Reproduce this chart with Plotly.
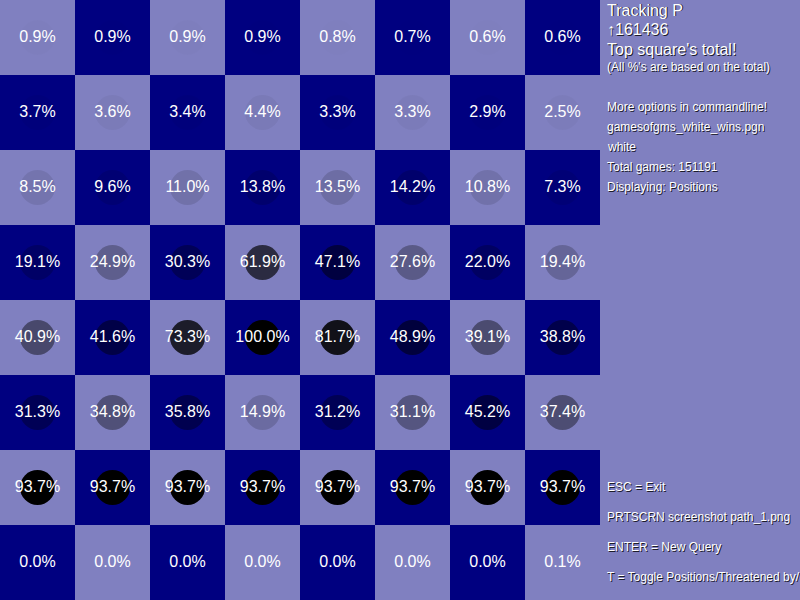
import plotly.graph_objects as go

# percent of games with a pawn on each square, rank 8 (top) to rank 1 (bottom), files a-h
files = ["a", "b", "c", "d", "e", "f", "g", "h"]
ranks = ["8", "7", "6", "5", "4", "3", "2", "1"]
rank8 = [0.9, 0.9, 0.9, 0.9, 0.8, 0.7, 0.6, 0.6]
rank7 = [3.7, 3.6, 3.4, 4.4, 3.3, 3.3, 2.9, 2.5]
rank6 = [8.5, 9.6, 11.0, 13.8, 13.5, 14.2, 10.8, 7.3]
rank5 = [19.1, 24.9, 30.3, 61.9, 47.1, 27.6, 22.0, 19.4]
rank4 = [40.9, 41.6, 73.3, 100.0, 81.7, 48.9, 39.1, 38.8]
rank3 = [31.3, 34.8, 35.8, 14.9, 31.2, 31.1, 45.2, 37.4]
rank2 = [93.7, 93.7, 93.7, 93.7, 93.7, 93.7, 93.7, 93.7]
rank1 = [0.0, 0.0, 0.0, 0.0, 0.0, 0.0, 0.0, 0.1]
board = [rank8, rank7, rank6, rank5, rank4, rank3, rank2, rank1]

info_top = ["Tracking P", "\u2191161436", "Top square's total!"]
info_note = "(All %'s are based on the total)"
info_mid = ["More options in commandline!", "gamesofgms_white_wins.pgn", "white",
            "Total games: 151191", "Displaying: Positions"]
info_keys = ["ESC = Exit", "PRTSCRN screenshot path_1.png", "ENTER = New Query",
             "T = Toggle Positions/Threatened by/"]

LIGHT = "#8080c0"
DARK = "#000080"
FONT = "Liberation Sans, Arial, sans-serif"

parity = [[(r + c) % 2 for c in range(8)] for r in range(8)]

xs, ys, cols, labels = [], [], [], []
for r, row in enumerate(board):
    for c, p in enumerate(row):
        xs.append(files[c])
        ys.append(ranks[r])
        a = min(1.0, p / 93.7)
        cols.append(f"rgba(0,0,0,{a:.3f})")
        labels.append(f"{p:.1f}%")

fig = go.Figure()
fig.add_trace(go.Heatmap(
    x=files, y=ranks, z=parity,
    colorscale=[[0, LIGHT], [1, DARK]],
    showscale=False, hoverinfo="skip",
))
fig.add_trace(go.Scatter(
    x=xs, y=ys, mode="markers+text",
    marker=dict(size=35, color=cols, line=dict(width=0)),
    text=labels, textposition="middle center",
    textfont=dict(family=FONT, size=16, color="white"),
    hoverinfo="skip", showlegend=False, cliponaxis=False,
))


def panel_text(txt, ypix, size):
    # white text with a 1px dark drop shadow, placed in pixel terms
    for dx, dy, color in [(1, 1, "rgba(0,0,0,0.8)"), (0, 0, "white")]:
        fig.add_annotation(
            text=txt, xref="paper", yref="paper",
            x=(605 + dx) / 600, y=1 - (ypix + dy) / 600,
            xanchor="left", yanchor="middle", showarrow=False,
            font=dict(family=FONT, size=size, color=color),
        )


for i, t in enumerate(info_top):
    panel_text(t, 10 + i * 19.5, 16)
panel_text(info_note, 67, 12)
for i, t in enumerate(info_mid):
    panel_text(t, 107 + i * 20, 12)
for i, t in enumerate(info_keys):
    panel_text(t, 487 + i * 30, 12)

fig.update_layout(
    width=800, height=600,
    margin=dict(l=0, r=200, t=0, b=0),
    paper_bgcolor=LIGHT, plot_bgcolor=LIGHT,
    xaxis=dict(visible=False, range=[-0.5, 7.5], fixedrange=True),
    yaxis=dict(visible=False, range=[7.5, -0.5], fixedrange=True),
    showlegend=False,
)

fig.write_html("out.html", config={"displayModeBar": False},
               post_script="document.body.style.margin='0';")
